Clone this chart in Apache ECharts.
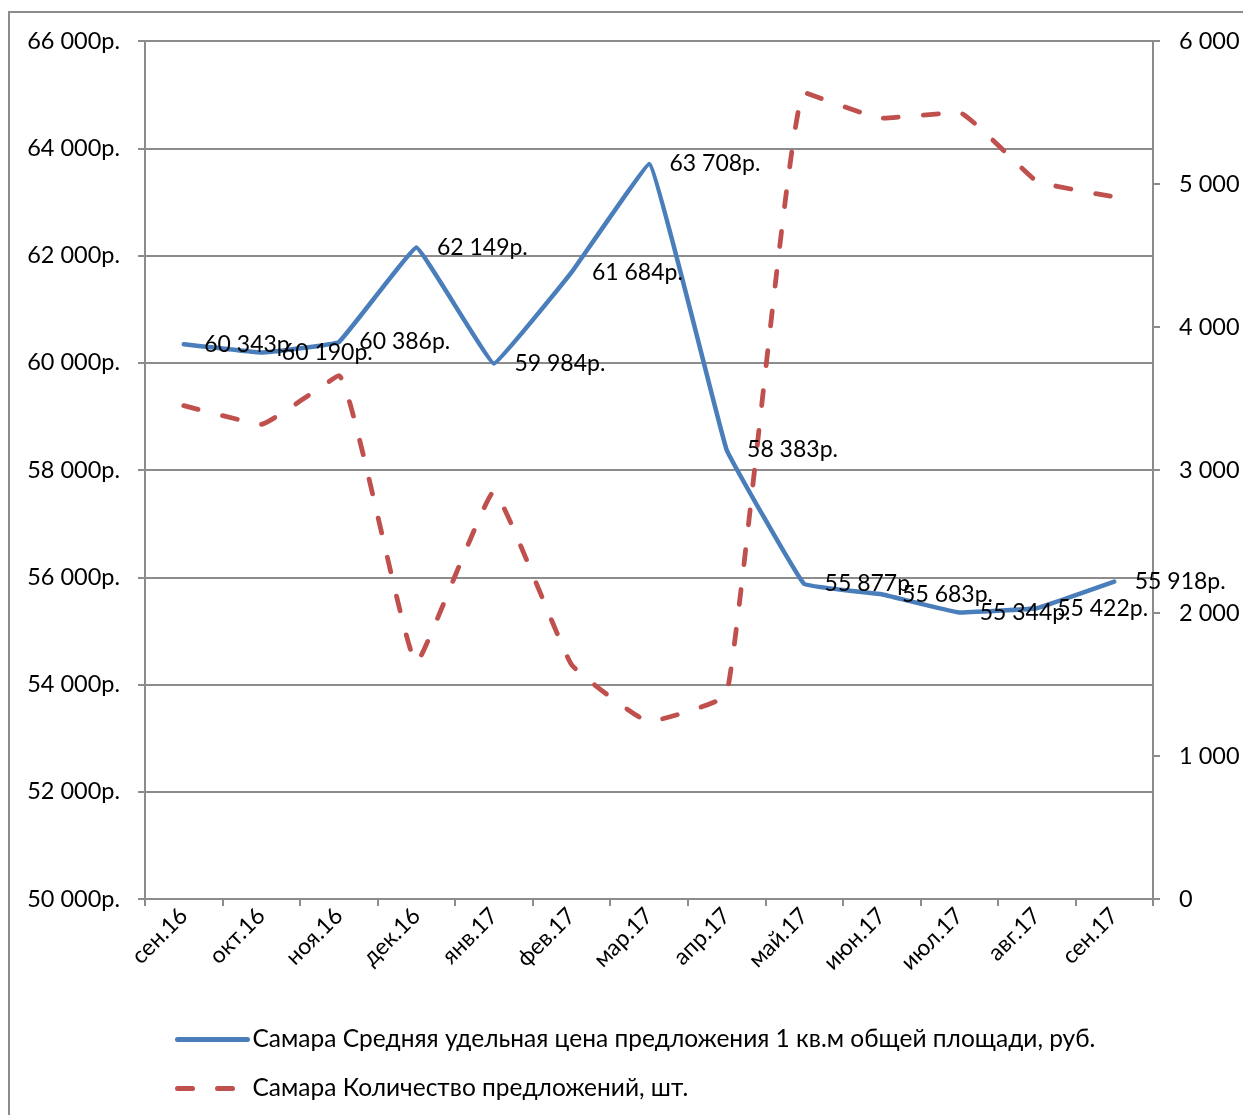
<!DOCTYPE html>
<html>
<head>
<meta charset="utf-8">
<script src="https://cdn.jsdelivr.net/npm/echarts@6/dist/echarts.min.js"></script>
<style>
html,body{margin:0;padding:0;background:#fff;}
#frame{position:absolute;left:8px;top:11px;width:1300px;height:1200px;border-left:2px solid #8c8c8c;border-top:2px solid #8c8c8c;}
#chart{position:absolute;left:0;top:0;width:1243px;height:1115px;}
</style>
</head>
<body>
<div id="frame"></div>
<div id="chart"></div>
<script>
const categories = ['сен.16','окт.16','ноя.16','дек.16','янв.17','фев.17','мар.17','апр.17','май.17','июн.17','июл.17','авг.17','сен.17'];
const priceValues = [60343, 60190, 60386, 62149, 59984, 61684, 63708, 58383, 55877, 55683, 55344, 55422, 55918];
const countValues = [3450, 3320, 3660, 1650, 2850, 1640, 1240, 1430, 5640, 5460, 5500, 5020, 4910];
const seriesNames = ['Самара Средняя удельная цена предложения 1 кв.м общей площади, руб.', 'Самара Количество предложений, шт.'];

const FONT = 'Lato';
function fmtThousands(v){
  return String(Math.round(v)).replace(/\B(?=(\d{3})+(?!\d))/g, ' ');
}
const chart = echarts.init(document.getElementById('chart'), null, {renderer:'canvas'});
const axisGray = '#8c8c8c';
chart.setOption({
  animation:false,
  backgroundColor:'transparent',
  textStyle:{fontFamily:FONT},
  grid:{left:145, right:90, top:41, bottom:216, containLabel:false},
  legend:{
    orient:'vertical', left:170, top:1022, itemWidth:70, itemHeight:6, itemGap:24,
    lineStyle:{width:5},
    textStyle:{fontFamily:FONT, fontSize:24.5, color:'#000'},
    data:seriesNames
  },
  xAxis:{
    type:'category', data:categories, boundaryGap:true,
    axisLine:{lineStyle:{color:axisGray, width:2}},
    axisTick:{show:true, length:7, lineStyle:{color:axisGray, width:2}},
    axisLabel:{rotate:45, margin:13, fontSize:23, color:'#000', fontFamily:FONT}
  },
  yAxis:[
    {
      type:'value', min:50000, max:66000, interval:2000, position:'left',
      axisLine:{show:true, lineStyle:{color:axisGray, width:2}},
      axisTick:{show:true, length:7, lineStyle:{color:axisGray, width:2}},
      splitLine:{show:true, lineStyle:{color:axisGray, width:2}},
      axisLabel:{margin:25, fontSize:23.5, color:'#000', fontFamily:FONT, formatter:v=>fmtThousands(v)+'р.'}
    },
    {
      type:'value', min:0, max:6000, interval:1000, position:'right',
      axisLine:{show:true, lineStyle:{color:axisGray, width:2}},
      axisTick:{show:true, length:7, lineStyle:{color:axisGray, width:2}},
      splitLine:{show:false},
      axisLabel:{margin:26, fontSize:23.5, color:'#000', fontFamily:FONT, formatter:v=>fmtThousands(v)}
    }
  ],
  series:[
    {
      name:seriesNames[0], type:'line', yAxisIndex:0, data:priceValues,
      smooth:0.06, symbol:'circle', symbolSize:1, showSymbol:true,
      itemStyle:{color:'transparent'},
      lineStyle:{color:'#4a7ebb', width:4.5, cap:'round', join:'round'},
      label:{show:true, position:'right', distance:20, fontSize:23, color:'#000', fontFamily:FONT,
        formatter:p=>fmtThousands(p.value)+'р.'},
      z:3
    },
    {
      name:seriesNames[1], type:'line', yAxisIndex:1, data:countValues,
      smooth:0.1, symbol:'circle', symbolSize:1, showSymbol:true,
      itemStyle:{color:'transparent'},
      lineStyle:{color:'#c0504d', width:4.8, type:[15,25], cap:'round', join:'round'},
      label:{show:false},
      z:2
    }
  ]
});
</script>
</body>
</html>
